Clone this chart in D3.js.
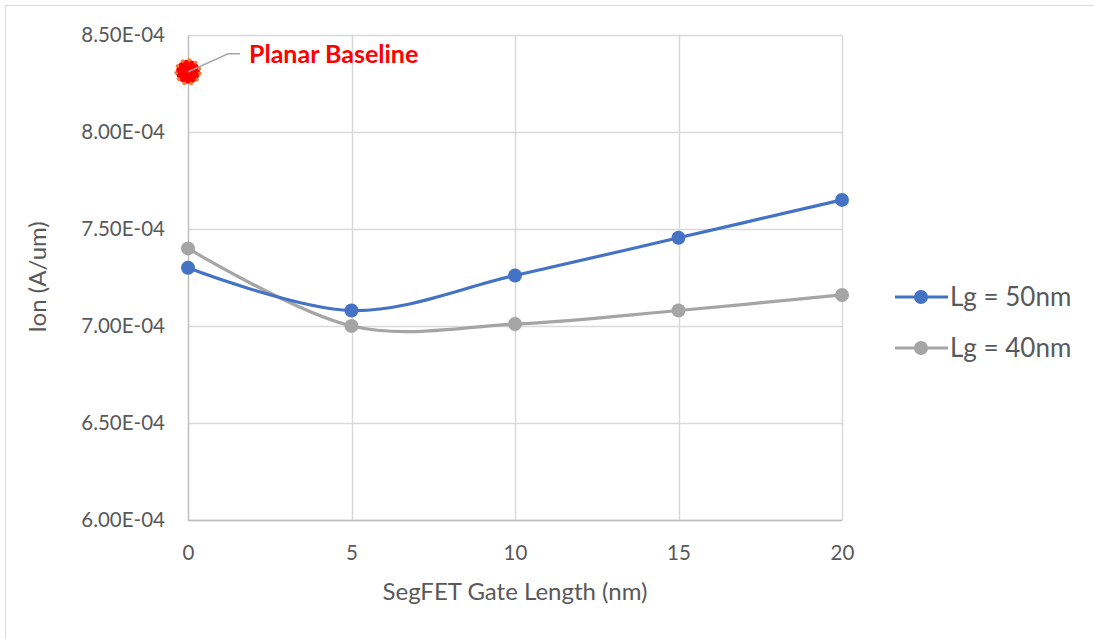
<!DOCTYPE html>
<html>
<head>
<meta charset="utf-8">
<script src="https://cdn.jsdelivr.net/npm/d3@7"></script>
<style>
  html, body { margin: 0; padding: 0; background: #fff; }
  svg { display: block; font-family: Lato, "Open Sans", sans-serif; }
</style>
</head>
<body>
<svg id="chart" width="1094" height="639"></svg>
<script>
// Gate length (nm) on the x axis
const gateLengths = [0, 5, 10, 15, 20];
// On-current (A/um) for each SegFET gate length
const ionLg50 = [7.30e-4, 7.08e-4, 7.26e-4, 7.455e-4, 7.65e-4];
const ionLg40 = [7.40e-4, 7.00e-4, 7.01e-4, 7.08e-4, 7.16e-4];
// Planar reference point
const planarX = [0];
const planarIon = [8.31e-4];
const seriesNames = ["Lg = 50nm", "Lg = 40nm"];
const yTicks = [6.0e-4, 6.5e-4, 7.0e-4, 7.5e-4, 8.0e-4, 8.5e-4];
const xTicks = [0, 5, 10, 15, 20];

const svg = d3.select("#chart");
const colors = ["#4472C4", "#A5A5A5"];

// Chart frame (top and left edges)
svg.append("path")
  .attr("d", "M5.5,639 V5.5 H1094")
  .attr("fill", "none").attr("stroke", "#D9D9D9").attr("stroke-width", 1);

const x = d3.scaleLinear().domain([0, 20]).range([188, 842]);
const y = d3.scaleLinear().domain([6.0e-4, 8.5e-4]).range([520, 35]);

// Gridlines
const grid = svg.append("g");
grid.selectAll(".hg").data(yTicks).join("line")
  .attr("x1", x(0)).attr("x2", x(20))
  .attr("y1", d => Math.round(y(d)) + 0.5).attr("y2", d => Math.round(y(d)) + 0.5)
  .attr("stroke", "#D9D9D9").attr("stroke-width", 1.5);
grid.selectAll(".vg").data(xTicks.slice(1)).join("line")
  .attr("x1", d => Math.round(x(d)) + 0.5).attr("x2", d => Math.round(x(d)) + 0.5)
  .attr("y1", y(8.5e-4)).attr("y2", y(6.0e-4))
  .attr("stroke", "#D9D9D9").attr("stroke-width", 1.5);

// Axes
const fmt = d => d.toExponential(2).toUpperCase().replace(/E([+-])(\d)$/, "E$10$2");
const yAxis = svg.append("g").attr("transform", `translate(${x(0)},0)`)
  .call(d3.axisLeft(y).tickValues(yTicks).tickFormat(fmt).tickSize(0).tickPadding(23));
const xAxis = svg.append("g").attr("transform", `translate(0,${y(6.0e-4)})`)
  .call(d3.axisBottom(x).tickValues(xTicks).tickFormat(d3.format("d")).tickSize(0).tickPadding(25));
[yAxis, xAxis].forEach(a => {
  a.select(".domain").attr("stroke", "#BFBFBF").attr("stroke-width", 1.5);
  a.selectAll("text").attr("fill", "#595959").style("font-size", "20.5px")
    .style("font-family", "Lato, 'Open Sans', sans-serif");
});

// Axis titles
svg.append("text")
  .attr("x", 515).attr("y", 600).attr("text-anchor", "middle")
  .attr("fill", "#595959").style("font-size", "24px")
  .text("SegFET Gate Length (nm)");
svg.append("text")
  .attr("transform", "translate(46,277) rotate(-90)").attr("text-anchor", "middle")
  .attr("fill", "#595959").style("font-size", "24px")
  .text("Ion (A/um)");

// Smoothed series lines with markers
const line = d3.line().x(d => x(d[0])).y(d => y(d[1])).curve(d3.curveCatmullRom.alpha(0));
const series = [ionLg50, ionLg40].map(vals => gateLengths.map((g, i) => [g, vals[i]]));
series.slice().reverse().forEach((pts, ri) => {
  const i = series.length - 1 - ri;
  svg.append("path").datum(pts).attr("d", line)
    .attr("fill", "none").attr("stroke", colors[i]).attr("stroke-width", 3.2)
    .attr("stroke-linecap", "round");
  svg.append("g").selectAll("circle").data(pts).join("circle")
    .attr("cx", d => x(d[0])).attr("cy", d => y(d[1])).attr("r", 7)
    .attr("fill", colors[i]);
});

// Planar baseline marker and callout
const px = x(planarX[0]), py = y(planarIon[0]);
svg.append("circle").attr("cx", px).attr("cy", py).attr("r", 12)
  .attr("fill", "#FF0000").attr("stroke", "#ED7D31").attr("stroke-width", 3.2)
  .attr("stroke-dasharray", "3,4");
svg.append("path")
  .attr("d", `M${px},${py} L${px + 40},${py - 18} H${px + 52}`)
  .attr("fill", "none").attr("stroke", "#A5A5A5").attr("stroke-width", 1.5);
svg.append("text").attr("x", px + 61).attr("y", py - 9)
  .attr("fill", "#FF0000").style("font-size", "25px").style("font-weight", "bold")
  .text("Planar Baseline");

// Legend
const legend = svg.append("g");
seriesNames.forEach((name, i) => {
  const ly = 297 + i * 51;
  legend.append("line").attr("x1", 895).attr("x2", 948).attr("y1", ly).attr("y2", ly)
    .attr("stroke", colors[i]).attr("stroke-width", 3.2);
  legend.append("circle").attr("cx", 921).attr("cy", ly).attr("r", 7).attr("fill", colors[i]);
  legend.append("text").attr("x", 950).attr("y", ly + 9)
    .attr("fill", "#595959").style("font-size", "26px").text(name);
});
</script>
</body>
</html>
